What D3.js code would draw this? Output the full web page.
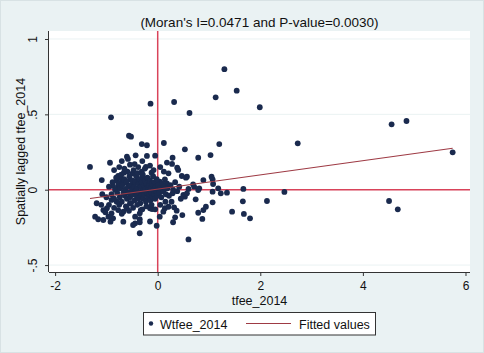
<!DOCTYPE html>
<html><head><meta charset="utf-8">
<script src="https://cdn.jsdelivr.net/npm/d3@7"></script>
<style>body{margin:0;background:#fff}svg{display:block;font-family:"Liberation Sans",Arial,sans-serif}</style>
</head><body><div id="chart"></div>
<script>
const title = "(Moran's I=0.0471 and P-value=0.0030)";
const xLabel = "tfee_2014";
const yLabel = "Spatially lagged tfee_2014";
const xTicks = [-2, 0, 2, 4, 6];
const yTicks = [1, 0.5, 0, -0.5];
const yTickLabels = ["1", ".5", "0", "-.5"];
const legendLabels = ["Wtfee_2014", "Fitted values"];
const fitSlope = 0.0471;
const fitIntercept = 0.004;
// tfee_2014 values
const tfee = [1.30,1.54,1.13,0.32,-0.14,0.62,1.99,-0.91,-0.56,-0.52,-0.31,-0.21,0.12,1.20,2.73,0.53,-0.60,-0.58,-0.43,-0.21,-0.05,-0.54,-0.93,-1.32,-0.23,0.29,0.28,0.38,0.40,0.79,1.03,-0.66,-0.49,-0.31,-0.12,0.21,-1.09,-0.77,-0.72,-0.80,-0.68,-0.54,-0.40,-0.30,-0.16,0.04,0.14,0.18,-0.87,-0.77,-0.51,-0.28,-0.02,0.47,0.55,0.57,0.89,1.05,1.07,1.08,0.69,0.71,0.79,0.81,0.60,1.18,1.07,1.23,1.35,1.67,2.47,0.74,1.07,1.66,2.13,0.94,0.89,0.79,0.87,1.45,1.68,1.80,0.48,0.60,0.34,0.30,0.37,0.32,0.50,0.53,0.57,0.27,0.29,0.11,0.14,0.04,-0.02,-0.15,-0.35,-0.44,-0.35,-0.35,-0.33,-0.15,-0.11,-1.19,-1.22,-1.16,-1.06,-0.99,-0.90,-0.87,-0.92,-0.67,-0.48,-0.67,-0.60,-0.90,-0.80,-0.54,-0.77,-0.44,-0.96,-1.06,-0.35,0.21,4.56,4.85,4.51,4.68,5.75,
-0.95,-0.90,-0.88,-0.85,-0.83,-0.81,-0.79,-0.76,-0.74,-0.73,-0.71,-0.70,-0.69,-0.67,-0.65,-0.64,-0.63,-0.61,-0.60,-0.59,-0.58,-0.57,-0.55,-0.54,-0.53,-0.52,-0.50,-0.49,-0.48,-0.47,-0.46,-0.45,-0.44,-0.43,-0.42,-0.41,-0.40,-0.39,-0.38,-0.37,-0.36,-0.35,-0.34,-0.33,-0.32,-0.31,-0.30,-0.29,-0.28,-0.27,-0.26,-0.25,-0.24,-0.23,-0.22,-0.21,-0.20,-0.19,-0.18,-0.17,-0.16,-0.15,-0.14,-0.13,-0.12,-0.11,-0.10,-0.09,-0.08,-0.07,-0.06,-0.05,-0.04,-0.03,-0.02,-0.01,0.01,0.03,0.05,0.07,0.09,0.11,0.13,0.16,0.19,0.22,0.25,0.30,0.34,0.38,0.42,0.45,
-1.10,-1.02,-0.95,-0.85,-0.75,-0.70,-0.62,-0.56,-0.48,-0.40,-0.30,-0.22,-0.12,-0.05,0.05,0.15,-1.00,-1.08,
-0.85,-0.75,-0.65,-0.45,-0.38,-0.25,-0.15,-0.08,0.05,0.12,0.18,-0.70,-0.30];
// spatially lagged values
const wtfee = [0.80,0.657,0.613,0.582,0.571,0.509,0.547,0.480,0.358,0.352,0.303,0.295,0.310,0.303,0.308,0.268,0.219,0.204,0.228,0.224,0.226,0.166,0.179,0.151,0.151,0.212,0.171,0.146,0.131,0.212,0.230,0.113,0.109,0.119,0.113,0.109,0.064,0.091,0.076,0.060,0.053,0.069,0.060,0.082,0.064,0.053,0.069,0.042,0.025,0.020,0.029,0.020,0.020,0.091,0.080,0.086,0.064,0.086,0.069,0.038,0.036,0.020,-0.002,0.009,0.005,0.009,-0.013,-0.024,-0.020,0.005,-0.015,-0.064,-0.084,-0.077,-0.075,-0.113,-0.135,-0.153,-0.194,-0.146,-0.161,-0.190,-0.168,-0.330,-0.183,-0.216,-0.139,-0.117,-0.035,-0.046,-0.024,-0.080,-0.024,-0.146,-0.123,-0.179,-0.239,-0.211,-0.289,-0.223,-0.196,-0.216,-0.135,-0.123,-0.128,-0.090,-0.179,-0.196,-0.135,-0.123,-0.157,-0.190,-0.212,-0.212,-0.234,-0.146,-0.123,-0.068,-0.080,-0.090,-0.135,-0.179,-0.179,-0.201,-0.157,-0.113,0.434,0.456,-0.075,-0.130,0.248,
0.02,-0.03,0.05,-0.06,0.00,0.08,-0.02,0.04,-0.05,0.01,0.10,-0.08,0.03,-0.02,0.07,-0.04,0.00,0.05,-0.06,0.12,0.02,-0.02,0.09,-0.05,0.03,-0.09,0.00,0.06,-0.03,0.13,0.02,-0.07,0.05,-0.01,0.09,-0.04,0.01,0.11,-0.06,0.04,-0.02,0.07,-0.09,0.02,-0.04,0.05,-0.01,0.10,-0.06,0.03,-0.03,0.06,0.00,-0.08,0.04,-0.02,0.08,0.01,-0.05,0.03,-0.03,0.06,-0.07,0.01,-0.02,0.04,-0.05,0.09,0.00,-0.03,0.05,-0.06,0.02,-0.01,0.07,-0.04,0.03,-0.02,0.01,-0.05,0.04,-0.01,0.02,-0.03,0.01,-0.04,0.03,0.00,0.05,-0.01,0.02,-0.06,
-0.10,-0.15,-0.10,-0.12,-0.10,-0.16,-0.11,-0.14,-0.12,-0.10,-0.13,-0.11,-0.10,-0.13,-0.10,-0.08,-0.05,-0.03,
0.13,0.15,0.14,0.17,0.15,0.14,0.16,0.13,0.15,0.12,0.18,0.19,0.19];

const W = 484, H = 353;
const svg = d3.select("#chart").append("svg").attr("width", W).attr("height", H);
svg.append("rect").attr("width", W).attr("height", H).attr("fill", "#eaf2f3");
svg.append("rect").attr("x", 0.5).attr("y", 0.5).attr("width", W - 1).attr("height", H - 1)
  .attr("fill", "none").attr("stroke", "#d8e2e4");

const pl = 49, pr = 470, pt = 31, pb = 272;
const x = d3.scaleLinear().domain([-2.119, 6.088]).range([pl, pr]);
const y = d3.scaleLinear().domain([1.053, -0.546]).range([pt, pb]);

svg.append("rect").attr("x", pl).attr("y", pt).attr("width", pr - pl).attr("height", pb - pt).attr("fill", "#fff");

// gridlines
svg.append("g").selectAll("line").data(yTicks).join("line")
  .attr("x1", pl).attr("x2", pr).attr("y1", d => y(d)).attr("y2", d => y(d))
  .attr("stroke", "#eaf2f3").attr("stroke-width", 1);

// reference lines
const red = "#d9435a";
svg.append("line").attr("x1", pl).attr("x2", pr).attr("y1", y(0)).attr("y2", y(0))
  .attr("stroke", red).attr("stroke-width", 1.5);
svg.append("line").attr("x1", x(0)).attr("x2", x(0)).attr("y1", pt).attr("y2", pb)
  .attr("stroke", red).attr("stroke-width", 1.5);

// points
svg.append("g").selectAll("circle").data(d3.range(tfee.length)).join("circle")
  .attr("cx", i => x(tfee[i])).attr("cy", i => y(wtfee[i])).attr("r", 2.9)
  .attr("fill", "#1a2a4e");

// fitted line
const xmin = d3.min(tfee), xmax = d3.max(tfee);
svg.append("line").attr("x1", x(xmin)).attr("x2", x(xmax))
  .attr("y1", y(fitIntercept + fitSlope * xmin)).attr("y2", y(fitIntercept + fitSlope * xmax))
  .attr("stroke", "#9e3a44").attr("stroke-width", 1.1);

// axes
const xAxis = d3.axisBottom(x).tickValues(xTicks).tickSize(4).tickFormat(d => d);
const gx = svg.append("g").attr("transform", `translate(0,${pb})`).call(xAxis);
gx.select(".domain").attr("d", `M${pl},0.5H${pr}`).attr("stroke", "#333");
gx.selectAll(".tick line").attr("stroke", "#333");
gx.selectAll("text").attr("font-size", 12).attr("fill", "#111").attr("dy", "0.9em")
  .attr("font-family", "Liberation Sans, Arial, sans-serif");

const yAxis = d3.axisLeft(y).tickValues(yTicks).tickSize(4).tickFormat((d, i) => yTickLabels[i]);
const gy = svg.append("g").attr("transform", `translate(${pl},0)`).call(yAxis);
gy.select(".domain").attr("d", `M-0.5,${pt}V${pb}`).attr("stroke", "#333");
gy.selectAll(".tick line").attr("stroke", "#333");
gy.selectAll("text").attr("font-size", 12).attr("fill", "#111")
  .attr("font-family", "Liberation Sans, Arial, sans-serif")
  .attr("x", null).attr("dy", null)
  .attr("text-anchor", "middle")
  .attr("transform", "translate(-12,0) rotate(-90)");

// titles
svg.append("text").attr("x", (pl + pr) / 2).attr("y", 27).attr("text-anchor", "middle")
  .attr("font-size", 13.5).attr("fill", "#111").text(title);
svg.append("text").attr("x", (pl + pr) / 2).attr("y", 305).attr("text-anchor", "middle")
  .attr("font-size", 12.5).attr("fill", "#111").text(xLabel);
svg.append("text").attr("transform", `translate(25,${(pt + pb) / 2}) rotate(-90)`).attr("text-anchor", "middle")
  .attr("font-size", 12.5).attr("fill", "#111").text(yLabel);

// legend
const lg = svg.append("g");
lg.append("rect").attr("x", 143.5).attr("y", 312.5).attr("width", 232).attr("height", 22.5)
  .attr("fill", "#fff").attr("stroke", "#333");
lg.append("circle").attr("cx", 151).attr("cy", 323.5).attr("r", 2.2).attr("fill", "#1a2a4e");
lg.append("text").attr("x", 160).attr("y", 328.5).attr("font-size", 12.5).attr("fill", "#111").text(legendLabels[0]);
lg.append("line").attr("x1", 246).attr("x2", 291).attr("y1", 323.5).attr("y2", 323.5)
  .attr("stroke", "#9e3a44").attr("stroke-width", 1.1);
lg.append("text").attr("x", 299).attr("y", 328.5).attr("font-size", 12.5).attr("fill", "#111").text(legendLabels[1]);
</script></body></html>
